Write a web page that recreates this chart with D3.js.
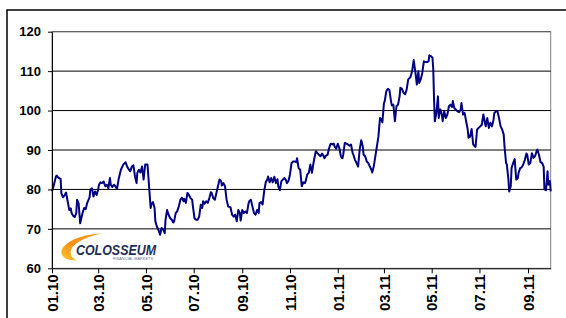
<!DOCTYPE html>
<html>
<head>
<meta charset="utf-8">
<script src="https://cdn.jsdelivr.net/npm/d3@7"></script>
<style>
  body { margin: 0; background: #fff; }
  svg { display: block; }
</style>
</head>
<body>
<div id="chart"></div>
<script>
// days since 01.01.2010 for each reading
var days = [
  0,2,5,6,8,11,12,14,16,18,20,22,24,25,27,29,31,32,34,36,37,39,41,43,45,48,49,51,53,55,
  57,59,60,62,64,66,68,70,72,74,75,77,79,81,83,85,88,91,94,96,97,100,102,104,106,108,109,111,113,115,
  117,119,120,122,124,126,127,129,131,132,134,136,138,140,142,144,145,147,149,151,153,155,156,158,160,162,164,166,168,169,
  171,173,175,177,179,180,182,184,186,188,190,192,193,195,197,199,201,203,204,206,208,210,212,214,216,217,219,221,223,225,
  227,228,230,232,234,236,238,240,241,243,245,247,249,251,252,254,256,258,260,262,264,265,267,269,271,273,275,276,278,280,
  282,284,286,288,289,291,293,295,297,299,300,302,304,306,308,310,312,313,315,317,319,321,323,324,326,328,330,332,334,336,
  337,339,341,343,345,347,348,350,352,354,356,358,360,361,363,365,367,369,371,372,374,376,378,380,382,384,385,387,389,391,
  393,395,397,398,400,402,404,406,408,409,411,413,415,417,418,419,421,422,424,425,427,429,431,433,434,436,438,440,442,444,
  445,447,449,451,453,455,457,458,460,462,464,466,468,469,471,473,475,477,479,481,482,484,486,487,488,489,491,493,494,496,
  498,499,501,503,505,507,509,511,512,514,516,518,520,522,523,525,527,529,531,532,534,536,538,540,541,543,545,547,549,551,
  553,554,556,558,560,562,564,565,567,569,571,573,575,577,578,580,581,583,584,586,587,589,591,593,595,596,598,600,602,604,
  606,607,609,611,613,615,617,619,620,622,624,626,628,629,631,633,634,636,637
];

var values = [
  79.5,80.8,83.3,83.5,83,82.7,79,78,78.5,79.2,77,74.8,75.2,74,73.3,73,74,77.4,76.5,71.4,72.3,74,75.3,75,76.6,78,80,80.3,78.2,79.5,
  78.6,80,81.2,81.8,81.6,82,80.8,81.2,80.3,82.9,81.2,80.6,81.2,80.8,80.1,82.5,85,86.3,86.9,85.8,85.4,84.6,85.8,86.1,83.3,81.6,84.2,85,84.3,85.8,
  82.5,86.3,86.3,86.3,80.8,75.3,76.2,76.8,75.3,71.9,70.6,69.7,68.5,70.2,69.9,68.9,72.3,74.8,73.5,72.7,72.3,71.6,71.9,74,74.5,75.7,77.4,77.9,77,77.6,
  76.6,79.1,78.6,77.8,77.4,75.7,72.7,72.3,72.3,73.1,76.1,75.3,77,76.4,77,76.6,77.8,79.3,79.1,77.8,77.4,79.1,80.8,82.5,82.1,81,81.6,80.8,77.4,75.7,
  75.5,75.5,73.6,73.1,73.6,71.9,74.8,74,72.1,74.8,74,74.4,74,76.4,77,77.4,75.7,74,73.6,74.8,74,76.6,76.8,76.2,79.5,81.8,82.5,83.3,81.8,82.9,
  81.8,83.2,81.6,82.6,80.8,79.8,82.1,82.5,82.9,82.3,81.6,82.1,83.8,86.7,87.1,87.1,86.9,87.9,85.4,85,80.8,81.8,81.6,82.1,83.8,84.2,86.3,84.2,86.7,88.8,
  89.7,89.2,88.8,88.4,89.1,88.4,87.9,88.6,88.8,90.5,91.6,91.4,91.6,90.9,90.3,91.6,90.5,88.4,87.9,88.8,91.8,91.6,91.4,91.1,91.4,89.2,88.8,87.5,86.7,85.8,
  90.1,92.5,90.9,88.8,88.4,87.1,86.7,85.8,85,84.3,85.8,88.4,90.9,93.5,96,98.1,97.7,97,101.9,102.4,104.9,105.5,105.2,102.4,101.3,101.5,97.3,101.1,101.5,103.6,
  105.8,105.5,104.5,104.1,105.3,107.9,108.3,108.6,110,112.8,110,106.6,110,107,107.9,109.6,112.5,112.3,112.3,112.5,114,113.8,113.4,110.4,102.8,97.3,99.4,103.6,98.1,100.3,
  99,97.3,99.8,98.1,99,101.1,101.5,100.9,102.4,100.6,100.2,99.8,99.6,100.2,101.9,99,99.4,97.3,95.2,93.1,93.4,95.3,91.4,90.9,90.8,95.2,95.6,96,96.4,99,
  96.9,96,98.1,95.6,96.9,96,97.7,99.4,99.8,99.8,98.1,96,95.2,93.9,90.9,86.7,86.3,82.5,79.5,80.8,85.4,86.7,87.7,82.5,82.9,84.2,85.4,85.6,86.4,87.5,
  89.1,88.8,86.3,86.7,89.2,88,88.4,89.7,90.1,88.8,86.9,86.7,85.8,80,79.8,84.6,81.2,82.1,79.5
];

var yTicks = [60, 70, 80, 90, 100, 110, 120];
var xTickLabels = ["01.10","03.10","05.10","07.10","09.10","11.10","01.11","03.11","05.11","07.11","09.11"];

var svgWidth = 566, svgHeight = 318;
var margin = {top: 31.7, left: 52, right: 15.3, bottom: 49.7};
var chartWidth = svgWidth - margin.left - margin.right;
var chartHeight = svgHeight - margin.top - margin.bottom;

var start = new Date(2010, 0, 1);
var data = d3.zip(days, values).map(function(d) {
  return {date: d3.timeDay.offset(start, d[0]), value: d[1]};
});
var tickDates = xTickLabels.map(function(s) {
  var p = s.split(".");
  return new Date(2000 + +p[1], +p[0] - 1, 1);
});

var svg = d3.select("#chart").append("svg")
  .attr("width", svgWidth).attr("height", svgHeight)
  .style("font-family", "'Liberation Sans', Arial, sans-serif");

// outer frame (cut off at right / bottom)
svg.append("rect")
  .attr("x", 7).attr("y", 10).attr("width", 600).attr("height", 400)
  .attr("fill", "#fff").attr("stroke", "#000").attr("stroke-width", 1.5);

var g = svg.append("g").attr("transform", "translate(" + margin.left + "," + margin.top + ")");

var x = d3.scaleTime().domain([start, new Date(2011, 8, 30)]).range([0, chartWidth]);
var y = d3.scaleLinear().domain([60, 120]).range([chartHeight, 0]);

// plot area border
g.append("rect")
  .attr("width", chartWidth).attr("height", chartHeight)
  .attr("fill", "none").attr("stroke", "#808080").attr("stroke-width", 1);

// gridlines
g.append("g").selectAll("line")
  .data(yTicks.filter(function(t) { return t > 60; }))
  .enter().append("line")
  .attr("x1", 0).attr("x2", chartWidth)
  .attr("y1", function(d) { return y(d); }).attr("y2", function(d) { return y(d); })
  .attr("stroke", function(d) { return d === 120 ? "#555" : "#000"; })
  .attr("stroke-width", 1);

// logo
var defs = svg.append("defs");
var grad = defs.append("linearGradient").attr("id", "sw").attr("x1", 0).attr("y1", 1).attr("x2", 1).attr("y2", 0);
grad.append("stop").attr("offset", "0%").attr("stop-color", "#ffc629");
grad.append("stop").attr("offset", "45%").attr("stop-color", "#f39019");
grad.append("stop").attr("offset", "100%").attr("stop-color", "#f7a21d");
var logo = svg.append("g");
logo.append("path")
  .attr("d", "M102,233.5 C88,233.5 70,238.5 63,247.5 C58.5,254 63,260.5 77,260.5 C70.5,257.5 68.5,252 73,246.5 C79,240 90,236 102,233.5 Z")
  .attr("fill", "url(#sw)");
logo.append("text")
  .attr("x", 76).attr("y", 255)
  .attr("textLength", 80).attr("lengthAdjust", "spacingAndGlyphs")
  .style("font-size", "14px").style("font-weight", "bold").style("font-style", "italic")
  .attr("fill", "#1f2e55")
  .text("COLOSSEUM");
logo.append("text")
  .attr("x", 113).attr("y", 259.5)
  .attr("textLength", 40).attr("lengthAdjust", "spacingAndGlyphs")
  .style("font-size", "3.5px")
  .attr("fill", "#6b7590")
  .text("FINANCIAL MARKETS");

// line
var line = d3.line()
  .x(function(d) { return x(d.date); })
  .y(function(d) { return y(d.value); });

g.append("path")
  .datum(data)
  .attr("d", line)
  .attr("fill", "none")
  .attr("stroke", "#000080")
  .attr("stroke-width", 2)
  .attr("stroke-linejoin", "round");

// y axis
var leftAxis = d3.axisLeft(y).tickValues(yTicks).tickSize(4).tickSizeOuter(0).tickPadding(7);
var yAxis = g.append("g").call(leftAxis);
yAxis.select(".domain").attr("stroke", "#000");
yAxis.selectAll("line").attr("stroke", "#000");
yAxis.selectAll("text")
  .style("font-size", "13px").style("font-weight", "bold").attr("fill", "#000");

// x axis
var bottomAxis = d3.axisBottom(x).tickValues(tickDates).tickSize(5).tickSizeOuter(0)
  .tickFormat(function(d, i) { return xTickLabels[i]; });
var xAxis = g.append("g").attr("transform", "translate(0," + chartHeight + ")").call(bottomAxis);
xAxis.select(".domain").attr("stroke", "#000");
xAxis.selectAll("line").attr("stroke", "#000");
xAxis.selectAll("text")
  .attr("transform", "rotate(-90)")
  .attr("text-anchor", "end")
  .attr("x", -6).attr("y", 0).attr("dy", "0.35em")
  .style("font-size", "15px").style("font-weight", "bold").attr("fill", "#000");
</script>
</body>
</html>
